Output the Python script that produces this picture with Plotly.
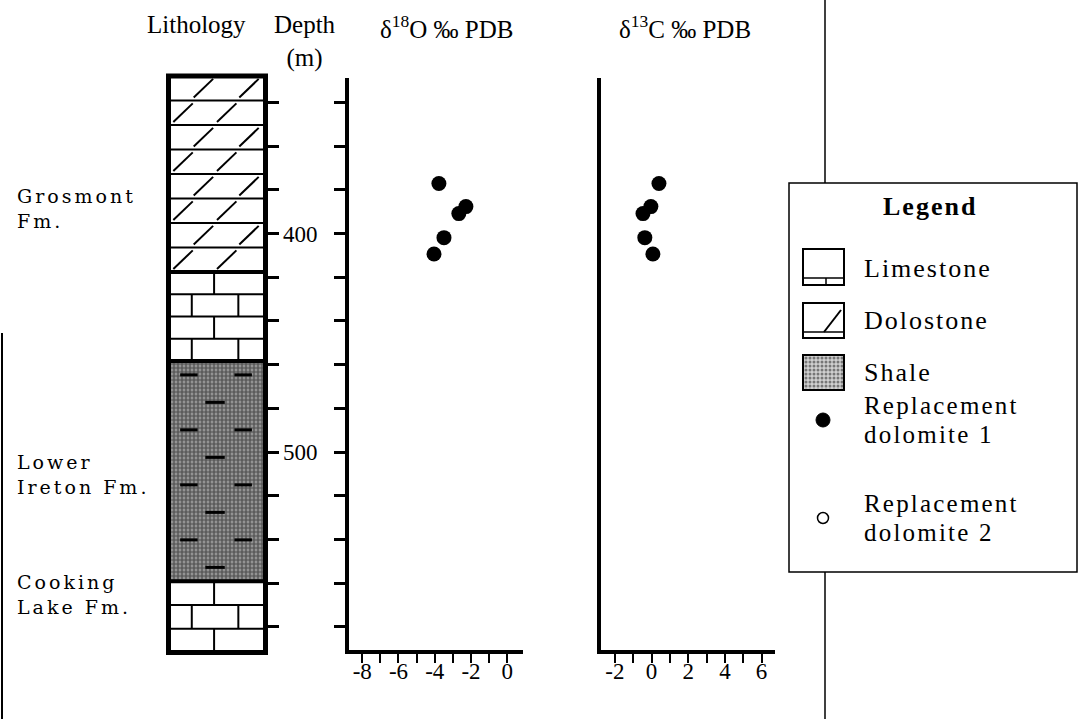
import plotly.graph_objects as go

W, H = 1078, 719

# ---- isotope samples: replacement dolomite 1 ----
sample_depth = [377.1, 387.7, 390.9, 401.9, 409.4]
d18o_values = [-3.77, -2.28, -2.67, -3.49, -4.04]
d13c_values = [0.40, -0.04, -0.47, -0.37, 0.07]

# ---- lithology column (depth in m) ----
layer_rock = ["Dolostone", "Limestone", "Shale", "Limestone"]
layer_top = [327.9, 417.6, 458.4, 559.1]
layer_base = [417.6, 458.4, 559.1, 591.8]

formation_names = ["Grosmont|Fm.", "Lower|Ireton Fm.", "Cooking|Lake Fm."]
formation_label_depth = [388.5, 510.5, 565.0]

# ---- axis ticks ----
depth_ticks = [340, 360, 380, 400, 420, 440, 460, 480, 500, 520, 540, 560, 580]
depth_tick_text = ["", "", "", "400", "", "", "", "", "500", "", "", "", ""]
o_ticks = [-8, -7, -6, -5, -4, -3, -2, -1, 0]
o_tick_text = ["-8", "", "-6", "", "-4", "", "-2", "", "0"]
c_ticks = [-2, -1, 0, 1, 2, 3, 4, 5, 6]
c_tick_text = ["-2", "", "0", "", "2", "", "4", "", "6"]

headers = ["Lithology", "Depth<br>(m)", "δ<sup>18</sup>O ‰ PDB", "δ<sup>13</sup>C ‰ PDB"]
legend_items = ["Limestone", "Dolostone", "Shale"]
legend_symbols = [["Replacement", "dolomite 1"], ["Replacement", "dolomite 2"]]

SERIF = "Liberation Serif"
WIDE_SERIF = "DejaVu Serif"


def px(x):
    return x / W


def py(y):
    return 1 - y / H


# vertical depth calibration shared by every depth axis
REF_DEPTH, REF_Y, PX_PER_M = 400.0, 233.5, 2.185


def depth_at(ypx):
    return REF_DEPTH + (ypx - REF_Y) / PX_PER_M


fig = go.Figure()

# ---- isotope scatter ----
fig.add_trace(go.Scatter(x=d18o_values, y=sample_depth, mode="markers", xaxis="x", yaxis="y",
                         marker=dict(size=15, color="black", line=dict(width=0)),
                         showlegend=False, hoverinfo="skip"))
fig.add_trace(go.Scatter(x=d13c_values, y=sample_depth, mode="markers", xaxis="x2", yaxis="y2",
                         marker=dict(size=15, color="black", line=dict(width=0)),
                         showlegend=False, hoverinfo="skip"))

# ---- shale fill in the column ----
for rock, top, base in zip(layer_rock, layer_top, layer_base):
    if rock == "Shale":
        fig.add_trace(go.Bar(x=[0.5], y=[base - top], base=[top], width=[1], xaxis="x3", yaxis="y3",
                             marker=dict(color="#a0a0a0", line=dict(width=0),
                                         pattern=dict(shape=".", fgcolor="#101010", bgcolor="#a8a8a8",
                                                      size=4, solidity=0.7)),
                             showlegend=False, hoverinfo="skip"))

# shale swatch for the key
fig.add_trace(go.Bar(x=[0.5], y=[1], base=[0], width=[1], xaxis="x4", yaxis="y4",
                     marker=dict(color="#c4c4c4", line=dict(width=0),
                                 pattern=dict(shape=".", fgcolor="#1c1c1c", bgcolor="#d0d0d0",
                                              size=4, solidity=0.45)),
                     showlegend=False, hoverinfo="skip"))

shapes = []


def col_line(x0, y0, x1, y1, w=2.0):
    shapes.append(dict(type="line", xref="x3", yref="y3", x0=x0, y0=y0, x1=x1, y1=y1,
                       line=dict(color="black", width=w)))


def paper_line(x0, y0, x1, y1, w=1.5):
    shapes.append(dict(type="line", xref="paper", yref="paper", x0=px(x0), y0=py(y0),
                       x1=px(x1), y1=py(y1), line=dict(color="black", width=w)))


def paper_rect(x0, y0, x1, y1, w=1.5):
    shapes.append(dict(type="rect", xref="paper", yref="paper", x0=px(x0), y0=py(y0),
                       x1=px(x1), y1=py(y1), line=dict(color="black", width=w)))


# ---- lithology symbols ----
for rock, top, base in zip(layer_rock, layer_top, layer_base):
    if rock == "Dolostone":
        rows = 8
        th = (base - top) / rows
        for i in range(rows):
            r_top = top + i * th
            r_bot = r_top + th
            if i > 0:
                col_line(0, r_top, 1, r_top, 2)
            centres = [0.36, 0.83] if i % 2 == 0 else [0.15, 0.6]
            for c in centres:
                col_line(c - 0.1, r_bot - 0.12 * th, c + 0.1, r_top + 0.12 * th, 2)
    elif rock == "Limestone":
        rows = max(1, round((base - top) / 10.5))
        th = (base - top) / rows
        for i in range(rows):
            r_top = top + i * th
            r_bot = r_top + th
            if i > 0:
                col_line(0, r_top, 1, r_top, 2)
            joints = [0.47] if i % 2 == 0 else [0.24, 0.72]
            for j in joints:
                col_line(j, r_top, j, r_bot, 2)
    elif rock == "Shale":
        rows = 8
        th = (base - top) / rows
        for i in range(rows):
            yy = top + (i + 0.5) * th
            spans = [(0.12, 0.3), (0.68, 0.86)] if i % 2 == 0 else [(0.38, 0.58)]
            for a, b in spans:
                col_line(a, yy, b, yy, 3)

# layer contacts and outer frame of the column
for top in layer_top[1:]:
    col_line(0, top, 1, top, 4)
shapes.append(dict(type="rect", xref="x3", yref="y3", x0=0, x1=1, y0=layer_top[0], y1=layer_base[-1],
                   line=dict(color="black", width=5)))

# ---- key ----
paper_rect(789, 183, 1077, 572, 1.5)
# limestone swatch
paper_rect(803, 249, 844, 285, 2)
paper_line(803, 278, 844, 278, 1.5)
paper_line(826, 278, 826, 285, 1.5)
# dolostone swatch
paper_rect(803, 303, 844, 338, 2)
paper_line(803, 332, 844, 332, 1.5)
paper_line(824, 332, 841, 310, 2)
# shale swatch frame
paper_rect(803, 355, 844, 390, 2)
# sample symbols
shapes.append(dict(type="circle", xref="paper", yref="paper", x0=px(816), x1=px(830), y0=py(427), y1=py(413),
                   fillcolor="black", line=dict(color="black", width=1)))
shapes.append(dict(type="circle", xref="paper", yref="paper", x0=px(817.5), x1=px(828.5), y0=py(523.5), y1=py(512.5),
                   fillcolor="white", line=dict(color="black", width=1.5)))

# page rules
paper_line(825, 0, 825, 183, 1.5)
paper_line(825, 572, 825, 719, 1.5)
paper_line(2, 333, 2, 719, 2)

# ---- text ----
ann = []
header_x = [196, 305, 446, 685]
for text, x in zip(headers, header_x):
    ann.append(dict(text=text, x=px(x), y=py(9), xref="paper", yref="paper", xanchor="center", yanchor="top",
                    showarrow=False, align="center", font=dict(family=SERIF, size=25, color="black")))


def spaced(line, ls):
    return '<span style="letter-spacing:%.1fpx">%s</span>' % (ls, line)


for name, d in zip(formation_names, formation_label_depth):
    text = "<br>".join(spaced(s, 3.0) for s in name.split("|"))
    ann.append(dict(text=text, x=px(15), y=d, xref="paper", yref="y3", xanchor="left", yanchor="middle",
                    showarrow=False, align="left", font=dict(family=WIDE_SERIF, size=19, color="black")))

ann.append(dict(text="<b>" + spaced("Legend", 2) + "</b>", x=px(930), y=py(207), xref="paper", yref="paper",
                xanchor="center", yanchor="middle", showarrow=False,
                font=dict(family=SERIF, size=26, color="black")))
for text, y in zip(legend_items, [268, 320, 372]):
    ann.append(dict(text=spaced(text, 2), x=px(862), y=py(y), xref="paper", yref="paper",
                    xanchor="left", yanchor="middle", showarrow=False,
                    font=dict(family=SERIF, size=26, color="black")))
for lines, y_mid in zip(legend_symbols, [420, 518]):
    for k, line in enumerate(lines):
        ann.append(dict(text=spaced(line, 2.2), x=px(862), y=py(y_mid - 14.5 + 29 * k), xref="paper", yref="paper",
                        xanchor="left", yanchor="middle", showarrow=False,
                        font=dict(family=SERIF, size=25, color="black")))

tick_font = dict(family=SERIF, size=23, color="black")

fig.update_layout(
    width=W, height=H, autosize=False,
    margin=dict(l=0, r=0, t=0, b=0, pad=0),
    paper_bgcolor="white", plot_bgcolor="rgba(0,0,0,0)",
    showlegend=False, barmode="overlay",
    shapes=shapes, annotations=ann,
    xaxis=dict(domain=[px(349), px(523)], range=[-8.73, 0.87], anchor="y",
               showgrid=False, zeroline=False, showline=True, linewidth=4, linecolor="black",
               ticks="outside", tickvals=o_ticks, ticktext=o_tick_text, ticklen=9, tickwidth=2,
               tickcolor="black", tickfont=tick_font, ticklabelstandoff=-12),
    yaxis=dict(domain=[py(650), py(78)], range=[depth_at(650), depth_at(78)], anchor="x",
               showgrid=False, zeroline=False, showline=True, linewidth=4, linecolor="black",
               ticks="outside", tickvals=depth_ticks, ticktext=depth_tick_text, ticklen=11, tickwidth=3,
               tickcolor="black", tickfont=tick_font, ticklabelstandoff=12),
    xaxis2=dict(domain=[px(601), px(775)], range=[-2.76, 6.73], anchor="y2",
                showgrid=False, zeroline=False, showline=True, linewidth=4, linecolor="black",
                ticks="outside", tickvals=c_ticks, ticktext=c_tick_text, ticklen=9, tickwidth=2,
                tickcolor="black", tickfont=tick_font, ticklabelstandoff=-12),
    yaxis2=dict(domain=[py(650), py(78)], range=[depth_at(650), depth_at(78)], anchor="x2",
                showgrid=False, zeroline=False, showline=True, linewidth=4, linecolor="black",
                ticks="", showticklabels=False),
    xaxis3=dict(domain=[px(160), px(274)], range=[-0.0876, 1.0876], anchor="y3", visible=False),
    yaxis3=dict(domain=[py(660), py(70)], range=[depth_at(660), depth_at(70)], anchor="free",
                position=px(265.5), side="right", showgrid=False, zeroline=False, showline=False,
                ticks="outside", tickvals=depth_ticks, ticklen=12, tickwidth=3, tickcolor="black",
                showticklabels=False),
    xaxis4=dict(domain=[px(804), px(843)], range=[0, 1], anchor="y4", visible=False),
    yaxis4=dict(domain=[py(389), py(356)], range=[0, 1], anchor="x4", visible=False),
)

fig.write_html("out.html")
